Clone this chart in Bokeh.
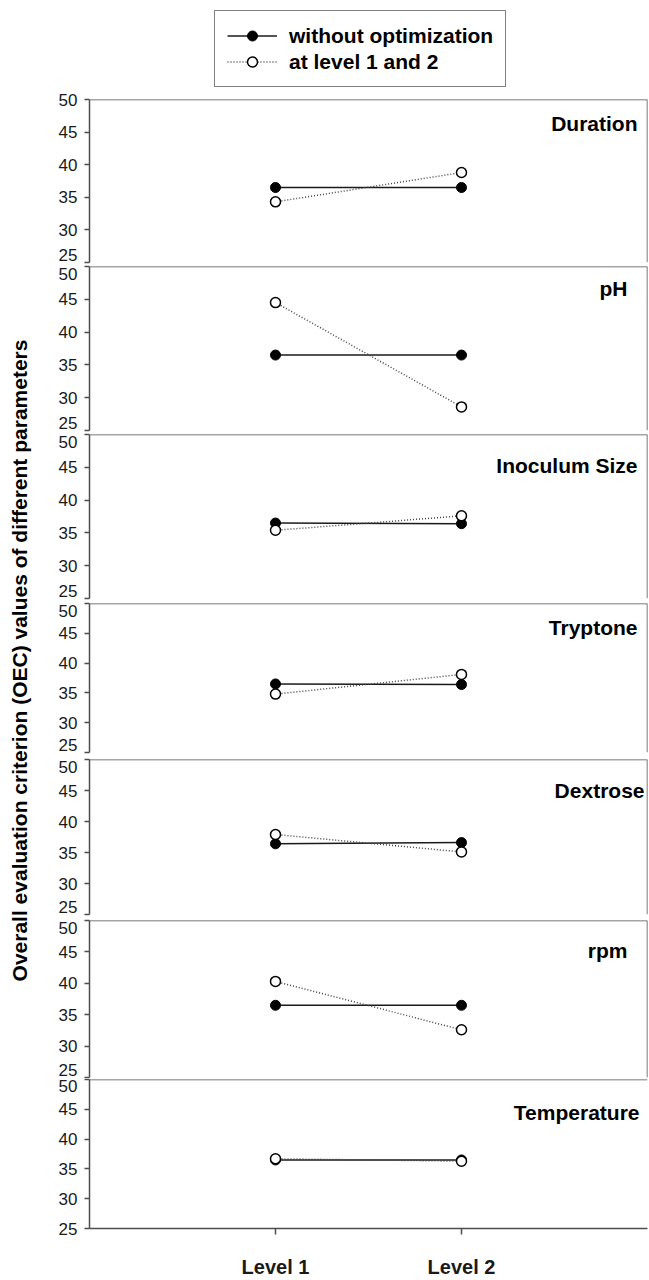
import math
from bokeh.plotting import figure
from bokeh.models import (Range1d, FixedTicker, Span, Label, Legend, LegendItem,
                          ColumnDataSource, LinearAxis)
from bokeh.layouts import column, row
from bokeh.embed import file_html
from bokeh.resources import INLINE
from bokeh.core.validation import silence
from bokeh.core.validation.warnings import MISSING_RENDERERS

# ---------------- data ----------------
parameters = ["Duration", "pH", "Inoculum Size", "Tryptone", "Dextrose", "rpm", "Temperature"]
levels = ["Level 1", "Level 2"]
level_positions = [1, 2]
without_opt_level1 = [36.5, 36.5, 36.5, 36.5, 36.4, 36.5, 36.5]
without_opt_level2 = [36.5, 36.5, 36.4, 36.4, 36.6, 36.5, 36.5]
optimized_level1 = [34.3, 44.5, 35.4, 34.8, 37.9, 40.3, 36.7]
optimized_level2 = [38.8, 28.6, 37.6, 38.1, 35.1, 32.6, 36.3]
y_ticks = [25, 30, 35, 40, 45, 50]
legend_labels = ["without optimization", "at level 1 and 2"]
y_title = "Overall evaluation criterion (OEC) values of different parameters"

# ---------------- style / layout ----------------
FONT = "Liberation Sans"
AX = "#4d4d4d"
TXT = "#1a1a1a"
LEGEND_H = 89
frame_heights = [163, 164, 164, 149, 155, 157, 163]
top_borders = [10, 2, 2, 3, 5, 4, 1]
bottom_borders = [2, 2, 2, 2, 2, 1, 38]
title_dy = [24, 22, 31, 24, 31, 30, 33]
title_dx = [-10, -20, -10, -10, -3, -20, -8]
edge_nudge_up = 8     # px: bottom "25" label moved up between stacked panels
edge_nudge_down = 7   # px: top "50" label moved down between stacked panels
LEFT_W = 38
PANEL_W = 611
TICK_FONT = "17px"

silence(MISSING_RENDERERS, True)


def plain(fig):
    fig.outline_line_color = None
    fig.xgrid.visible = False
    fig.ygrid.visible = False
    fig.background_fill_color = "white"
    fig.border_fill_color = "white"


base_style = dict(line_color="#1a1a1a", line_width=1.5)
base_marker = dict(size=10, fill_color="black", line_color="black", line_width=1)
opt_style = dict(line_color="#444444", line_width=1.5, line_dash="1 2")
opt_marker = dict(size=10, fill_color="white", line_color="black", line_width=1.5)

sources = []
for i in range(len(parameters)):
    sources.append(ColumnDataSource(dict(
        x=level_positions,
        base=[without_opt_level1[i], without_opt_level2[i]],
        opt=[optimized_level1[i], optimized_level2[i]],
    )))

# ---------------- legend strip ----------------
lf = figure(width=PANEL_W, height=LEGEND_H, x_range=Range1d(0, 1), y_range=Range1d(0, 1),
            output_backend="svg", toolbar_location=None, title=None,
            x_axis_location=None, y_axis_location=None, min_border=0)
plain(lf)
# hidden copies of the first panel's series, used only as legend keys
r1 = lf.line("x", "base", source=sources[0], visible=False, **base_style)
m1 = lf.scatter("x", "base", source=sources[0], visible=False, **base_marker)
r2 = lf.line("x", "opt", source=sources[0], visible=False, **opt_style)
m2 = lf.scatter("x", "opt", source=sources[0], visible=False, **opt_marker)
legend = Legend(items=[LegendItem(label=legend_labels[0], renderers=[r1, m1]),
                       LegendItem(label=legend_labels[1], renderers=[r2, m2])],
                location=(125, 2))
legend.border_line_color = "black"
legend.border_line_width = 1.5
legend.background_fill_color = "white"
legend.background_fill_alpha = 1.0
legend.padding = 12
legend.spacing = 1
legend.margin = 0
legend.glyph_width = 50
legend.glyph_height = 25
legend.label_height = 25
legend.label_standoff = 12
legend.label_text_font = FONT
legend.label_text_font_style = "bold"
legend.label_text_font_size = "21px"
legend.label_text_color = "black"
lf.add_layout(legend)

# ---------------- panels ----------------
panels = []
n = len(parameters)
for i, name in enumerate(parameters):
    last = (i == n - 1)
    h = top_borders[i] + frame_heights[i] + bottom_borders[i]
    p = figure(width=PANEL_W, height=h, x_range=Range1d(0, 3),
               y_range=Range1d(y_ticks[0], y_ticks[-1]),
               output_backend="svg", toolbar_location=None, title=None,
               x_axis_location=("below" if last else None), y_axis_location="left",
               min_border_left=51, min_border_right=2, min_border_top=top_borders[i],
               min_border_bottom=bottom_borders[i])
    plain(p)

    # axis with line and tick marks
    yax = p.yaxis[0]
    yax.ticker = FixedTicker(ticks=y_ticks)
    yax.major_label_overrides = {t: "" for t in y_ticks}
    yax.major_label_text_font_size = "0px"
    yax.major_label_standoff = 0
    yax.axis_line_color = AX
    yax.axis_line_width = 1.5
    yax.major_tick_line_color = AX
    yax.major_tick_line_width = 1.5
    yax.major_tick_out = 5
    yax.major_tick_in = 0
    yax.minor_tick_line_color = None

    # axis carrying the tick labels (edge labels nudged inward between panels)
    px_per_unit = frame_heights[i] / (y_ticks[-1] - y_ticks[0])
    label_pos = [float(t) for t in y_ticks]
    if not last:
        label_pos[0] = y_ticks[0] + edge_nudge_up / px_per_unit
    if i > 0:
        label_pos[-1] = y_ticks[-1] - edge_nudge_down / px_per_unit
    lab_ax = LinearAxis(ticker=FixedTicker(ticks=label_pos),
                        major_label_overrides={pos: str(t) for pos, t in zip(label_pos, y_ticks)},
                        axis_line_color=None, major_tick_line_color=None,
                        minor_tick_line_color=None, major_tick_out=0, major_tick_in=0,
                        major_label_standoff=7, major_label_text_font=FONT,
                        major_label_text_font_size=TICK_FONT, major_label_text_color=TXT)
    p.add_layout(lab_ax, "left")

    if last:
        xax = p.xaxis[0]
        xax.ticker = FixedTicker(ticks=level_positions)
        xax.major_label_overrides = dict(zip(level_positions, levels))
        xax.axis_line_color = AX
        xax.axis_line_width = 1.5
        xax.major_tick_line_color = AX
        xax.major_tick_line_width = 1.5
        xax.major_tick_out = 6
        xax.major_tick_in = 0
        xax.minor_tick_line_color = None
        xax.major_label_standoff = 21
        xax.major_label_text_font = FONT
        xax.major_label_text_font_style = "bold"
        xax.major_label_text_font_size = "20px"
        xax.major_label_text_color = TXT

    # frame borders (top, and right except last panel)
    p.add_layout(Span(location=y_ticks[-1], dimension="width", line_color=AX, line_width=1.5))
    if not last:
        p.add_layout(Span(location=3, dimension="height", line_color=AX, line_width=1.5))

    src = sources[i]
    p.line("x", "base", source=src, **base_style)
    p.scatter("x", "base", source=src, **base_marker)
    p.line("x", "opt", source=src, **opt_style)
    p.scatter("x", "opt", source=src, **opt_marker)

    p.add_layout(Label(x=3, y=y_ticks[-1], x_offset=title_dx[i], y_offset=-title_dy[i], text=name,
                       text_align="right", text_baseline="middle", text_font=FONT,
                       text_font_style="bold", text_font_size="21px", text_color="black"))
    panels.append(p)

total_h = LEGEND_H + sum(top_borders) + sum(frame_heights) + sum(bottom_borders)

# ---------------- y title strip ----------------
tf = figure(width=LEFT_W, height=total_h, output_backend="svg", toolbar_location=None,
            title=None, x_axis_location=None, y_axis_location=None, min_border=0,
            x_range=Range1d(0, 1), y_range=Range1d(0, 1))
plain(tf)
tf.add_layout(Label(x=19, y=total_h - 660, x_units="screen", y_units="screen",
                    text=y_title, angle=math.pi / 2, text_align="center",
                    text_baseline="middle", text_font=FONT, text_font_style="bold",
                    text_font_size="21px", text_color="black"))

layout = row(tf, column(lf, *panels, spacing=0), spacing=0)

open("out.html", "w").write(file_html(layout, INLINE, title="OEC values"))
